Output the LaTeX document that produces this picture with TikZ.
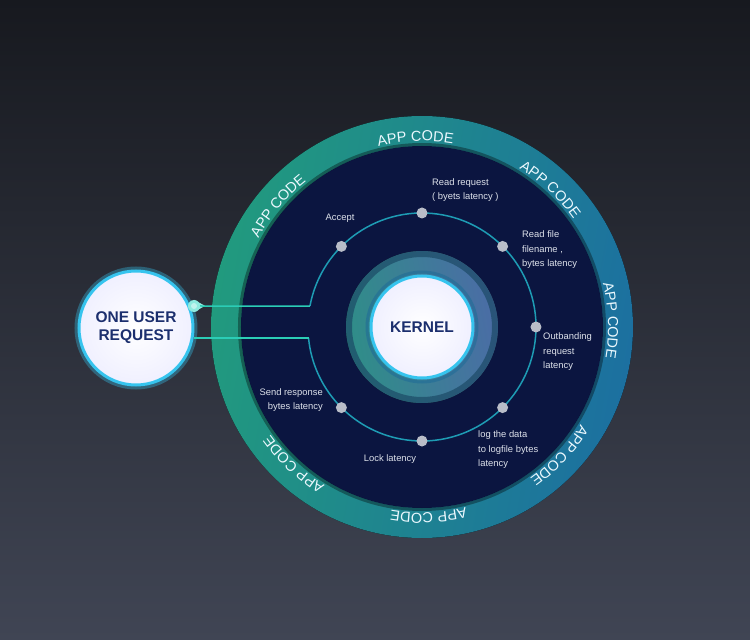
\documentclass[tikz,border=0pt]{standalone}
\usepackage{fontspec}
\setmainfont{Liberation Sans}
\usetikzlibrary{decorations.text}

\definecolor{bgtop}{HTML}{17191F}
\definecolor{bgbot}{HTML}{404554}
\definecolor{navy}{HTML}{0B1540}
\definecolor{ringgreen}{HTML}{219A7E}
\definecolor{ringmid}{HTML}{1F8C9C}
\definecolor{ringblue}{HTML}{1C70A0}
\definecolor{kgreen}{HTML}{2F8E88}
\definecolor{kblue}{HTML}{4B6CA6}
\definecolor{kernrim}{HTML}{1C4A66}
\definecolor{orbit}{HTML}{1E9CB4}
\definecolor{wire}{HTML}{2BCDB6}
\definecolor{knobcyan}{HTML}{8EEADF}
\definecolor{dotgray}{HTML}{B9BDC8}
\definecolor{lbltext}{HTML}{DDE1EA}
\definecolor{titleblue}{HTML}{1C2F6E}
\definecolor{glowcyan}{HTML}{36C4EE}

\begin{document}
\begin{tikzpicture}[x=1pt,y=1pt,
    lbl/.style={text=lbltext,font=\fontsize{9.4}{14.5}\selectfont,inner sep=0pt},
    dotmark/.style={circle,fill=dotgray,minimum size=11pt,inner sep=0pt},
    title/.style={text=titleblue,font=\fontsize{15.5}{18}\selectfont\bfseries,align=center},
    bubble/.style={circle,inner color=white,outer color=blue!6!white,draw=glowcyan,line width=3pt,title},
    wire/.style={draw=wire,line width=1.5pt},
    appcode/.style={decorate,decoration={text along path,text align=center,text color=white!92!cyan,
        text={|\fontsize{14.5}{14.5}\selectfont|APP CODE}}}]
    % background and frame
    \fill[top color=bgtop,bottom color=bgbot] (-422,-313) rectangle (328,327);
    \useasboundingbox (-422,-313) rectangle (328,327);

    % outer ring, dark disc, kernel glow
    \fill[left color=ringgreen,middle color=ringmid,right color=ringblue,shading angle=80] (0,0) circle (211);
    \fill[navy] (0,0) circle (181);
    \draw[black,line width=3pt,opacity=.35] (0,0) circle (182.5);
    \fill[left color=kgreen,right color=kblue,shading angle=100] (0,0) circle (76);
    \draw[kernrim,line width=6pt,opacity=.7] (0,0) circle (73);
    \draw[glowcyan!50!navy,line width=3pt,opacity=.6] (0,0) circle (55);

    % app code labels on the ring
    \foreach \a in {140,92,47,2,-43,-88,-133}
        \path[appcode] (\a+25:186) arc[start angle=\a+25,end angle=\a-25,radius=186];

    % orbit with the steps
    \coordinate (j1) at (169.4:114);
    \coordinate (j2) at (185.5:114);
    \draw[orbit,line width=1.5pt] (j1) arc[start angle=169.4,end angle=-174.5,radius=114];
    \foreach \a/\n in {135/accept,90/readreq,45/readfile,0/outband,-45/logdata,-90/lock,-135/sendresp}
        \node[dotmark] (d\n) at (\a:114) {};

    \node[lbl] (laccept) at (-82,109) {Accept};
    \node[lbl,anchor=west,align=left] (lreadreq) at (10,137) {Read request\\( byets latency )};
    \node[lbl,anchor=west,align=left] (lreadfile) at (100,77) {Read file\\filename ,\\bytes latency};
    \node[lbl,anchor=west,align=left] (loutband) at (121,-25) {Outbanding\\request\\latency};
    \node[lbl,anchor=west,align=left] (llogdata) at (56,-123) {log the data\\to logfile bytes\\latency};
    \node[lbl] (llock) at (-32,-132) {Lock latency};
    \node[lbl,anchor=east,align=right] (lsendresp) at (-99,-73) {Send response\\bytes latency};

    % kernel
    \node[bubble,minimum size=102pt] (kernel) at (0,0) {KERNEL};

    % the request and its wires
    \draw[glowcyan,line width=7pt,opacity=.35] (-286,-1) circle (58);
    \node[bubble,minimum size=114pt] (req) at (-286,-1) {ONE USER\\REQUEST};
    \draw[wire] (req.east |- j2) -- (j2);
    \node[circle,fill=knobcyan,minimum size=12pt,inner sep=0pt] (knob) at (-228,21) {};
    \fill[knobcyan] (knob.north) -- ++(11,-6) -- (knob.south) -- cycle;
    \fill[white,opacity=.45] (knob) circle (3);
    \draw[wire] (knob.east) -- (j1);
\end{tikzpicture}
\end{document}
